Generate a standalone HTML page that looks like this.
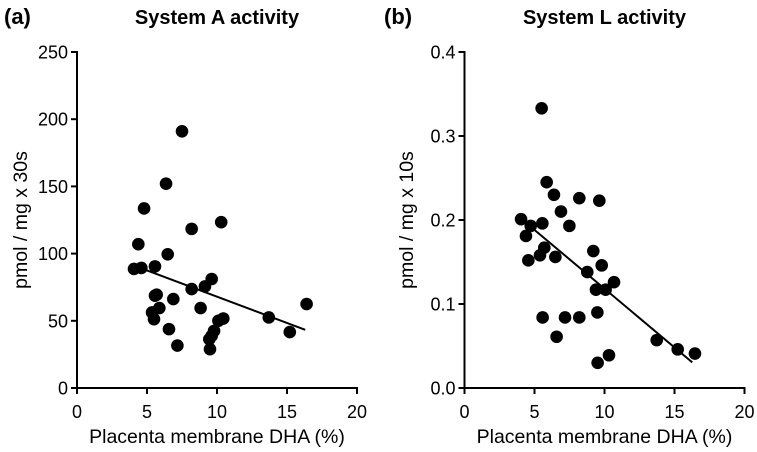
<!DOCTYPE html>
<html><head><meta charset="utf-8"><style>
body{margin:0;background:#fff;}
svg{display:block;font-family:"Liberation Sans",Arial,sans-serif;}
</style></head><body>
<svg id="chart" width="757" height="452" viewBox="0 0 757 452"></svg>
<script>
// Panel A data
const aX = [4.07,4.6,4.38,4.79,6.36,7.5,5.57,6.48,8.19,10.3,5.57,5.69,5.36,5.5,5.88,6.88,6.57,7.17,8.19,9.14,9.62,8.83,10.1,10.45,9.45,9.62,9.79,9.5,13.7,15.2,16.4];
const aY = [88.6,89.3,107,133.6,152,191,90.5,99.5,118.4,123.4,68.7,69.4,56.2,51.2,59.5,66.2,43.8,31.6,73.6,75.6,81.1,59.5,50,51.7,36.3,38.8,42.5,28.9,52.5,41.6,62.5];
const aFitX = [4.86,16.3];
const aFitY = [88,43.3];
const aYTicks = [0,50,100,150,200,250];
// Panel B data
const bX = [4.04,4.73,4.39,4.56,5.51,5.56,5.39,5.7,5.58,5.87,6.39,6.49,6.58,6.89,7.18,7.49,8.2,8.2,8.77,9.2,9.63,9.8,9.39,10.08,9.49,10.68,9.51,10.32,13.73,15.23,16.46];
const bY = [0.201,0.193,0.181,0.152,0.333,0.196,0.158,0.167,0.084,0.245,0.23,0.156,0.061,0.21,0.084,0.193,0.226,0.084,0.138,0.163,0.223,0.146,0.117,0.117,0.09,0.126,0.03,0.039,0.057,0.046,0.041];
const bFitX = [4.73,16.27];
const bFitY = [0.192,0.0305];
const bYTicks = [0,0.1,0.2,0.3,0.4];
const bYLabels = ["0.0","0.1","0.2","0.3","0.4"];
const xTicks = [0,5,10,15,20];

const NS="http://www.w3.org/2000/svg";
const svg=document.getElementById('chart');
function mk(tag,attrs,parent,text){const e=document.createElementNS(NS,tag);for(const k in attrs)e.setAttribute(k,attrs[k]);if(text!==undefined)e.textContent=text;parent.appendChild(e);return e;}

function panel(opt){
  const g=mk('g',{},svg);
  
  
  const x0=opt.x0, y0=388, xs=14;
  const sx=v=>x0+v*xs;
  const sy=v=>y0-(v-opt.ymin)/(opt.ymax-opt.ymin)*(y0-52);
  const lbl=mk('text',{x:opt.lx,y:24,'font-size':22,'font-weight':'bold'},g,opt.letter);
  
  
  const t=mk('text',{x:sx(10),y:24,'font-size':20,'font-weight':'bold','text-anchor':'middle'},g,opt.title);
  
  
  const ya=mk('g',{},g);
  
  
  mk('line',{x1:x0,y1:sy(opt.ymax)-1,x2:x0,y2:y0+1,stroke:'#000','stroke-width':2},ya);
  opt.yTicks.forEach((v,i)=>{
    mk('line',{x1:x0-6,y1:sy(v),x2:x0,y2:sy(v),stroke:'#000','stroke-width':2},ya);
    const tl=mk('text',{x:x0-9,y:sy(v)+6.5,'font-size':18,'text-anchor':'end'},ya,opt.yLabels[i]);
    
    
  });
  const xa=mk('g',{},g);
  
  
  mk('line',{x1:x0-1,y1:y0,x2:sx(20)+1,y2:y0,stroke:'#000','stroke-width':2},xa);
  xTicks.forEach(v=>{
    mk('line',{x1:sx(v),y1:y0,x2:sx(v),y2:y0+6,stroke:'#000','stroke-width':2},xa);
    const tl=mk('text',{x:sx(v),y:y0+30,'font-size':18,'text-anchor':'middle'},xa,String(v));
    
    
  });
  const xt=mk('text',{x:sx(10),y:443,'font-size':19.5,'text-anchor':'middle'},g,'Placenta membrane DHA (%)');
  
  
  const ytx=opt.ytx, yty=(y0+52)/2;
  const yt=mk('text',{x:ytx,y:yty,'font-size':19.5,'text-anchor':'middle',transform:`rotate(-90 ${ytx} ${yty})`},g,opt.ytitle);
  
  
  const fit=mk('line',{x1:sx(opt.fitX[0]),y1:sy(opt.fitY[0]),x2:sx(opt.fitX[1]),y2:sy(opt.fitY[1]),stroke:'#000','stroke-width':2},g);
  
  
  opt.xs.forEach((v,i)=>{
    const c=mk('circle',{cx:sx(v),cy:sy(opt.ys[i]),r:6.3,fill:'#000'},g);
    
    
  });
}
panel({name:'panel-a',letter:'(a)',lx:4,title:'System A activity',x0:77,ymin:0,ymax:250,yTicks:aYTicks,yLabels:aYTicks.map(String),xs:aX,ys:aY,fitX:aFitX,fitY:aFitY,ytitle:'pmol / mg x 30s',ytx:27});
panel({name:'panel-b',letter:'(b)',lx:384,title:'System L activity',x0:464.5,ymin:0,ymax:0.4,yTicks:bYTicks,yLabels:bYLabels,xs:bX,ys:bY,fitX:bFitX,fitY:bFitY,ytitle:'pmol / mg x 10s',ytx:413});
</script>
</body></html>
